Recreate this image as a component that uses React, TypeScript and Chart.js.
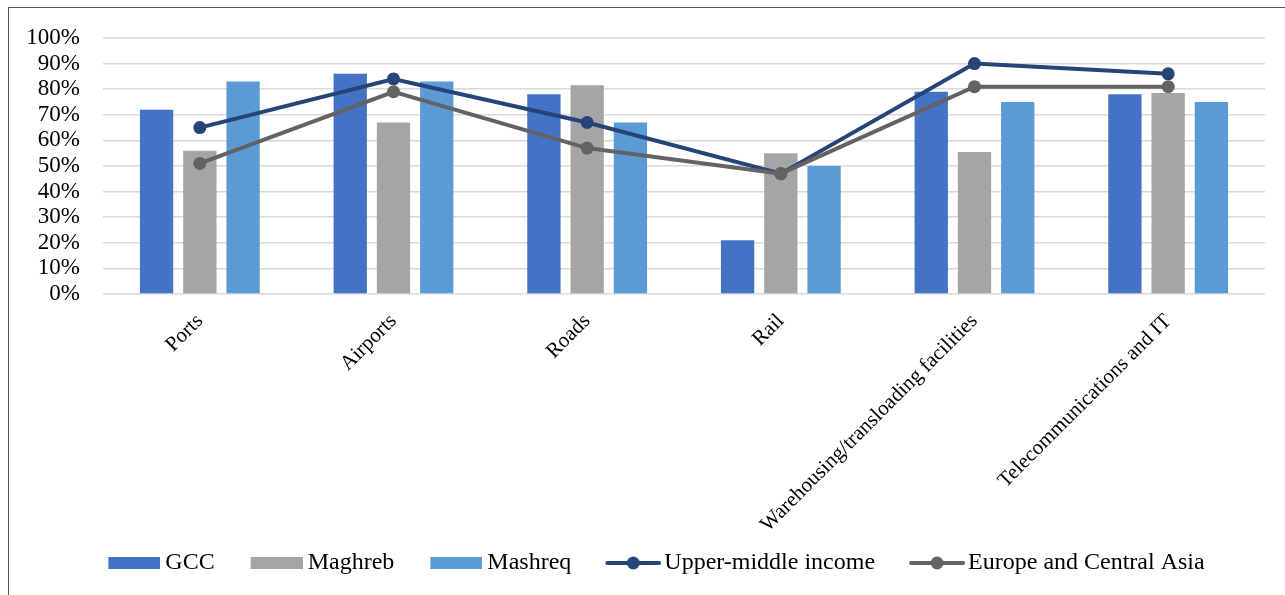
import React, { useEffect, useRef } from "react";
import { Chart, registerables } from "chart.js";

Chart.register(...registerables);

const categories = [
  "Ports",
  "Airports",
  "Roads",
  "Rail",
  "Warehousing/transloading facilities",
  "Telecommunications and IT",
];
const gcc = [72, 86, 78, 21, 79, 78];
const maghreb = [56, 67, 81.5, 55, 55.5, 78.5];
const mashreq = [83, 83, 67, 50, 75, 75];
const upperMiddle = [65, 84, 67, 47, 90, 86];
const europeCentralAsia = [51, 79, 57, 47, 81, 81];
const yTicks = [0, 10, 20, 30, 40, 50, 60, 70, 80, 90, 100];

const seriesNames = ["GCC", "Maghreb", "Mashreq", "Upper-middle income", "Europe and Central Asia"];
const colors = ["#4472C4", "#A5A5A5", "#5B9BD5", "#264478", "#636363"];

const FONT = "'Liberation Serif', 'Times New Roman', serif";

// legend marker images: transparent area on the left, visible swatch at the right end
function barSwatch(color: string) {
  const w = 85;
  const c = document.createElement("canvas");
  c.width = w;
  c.height = 12;
  const g = c.getContext("2d")!;
  g.fillStyle = color;
  g.fillRect(w - 52, 0, 52, 12);
  return c;
}

function lineSwatch(color: string) {
  const w = 89;
  const c = document.createElement("canvas");
  c.width = w;
  c.height = 14;
  const g = c.getContext("2d")!;
  const x0 = w - 56;
  g.strokeStyle = color;
  g.lineWidth = 4;
  g.lineCap = "round";
  g.beginPath();
  g.moveTo(x0 + 2, 7);
  g.lineTo(x0 + 54, 7);
  g.stroke();
  g.fillStyle = color;
  g.beginPath();
  g.arc(x0 + 28, 7, 6.5, 0, Math.PI * 2);
  g.fill();
  return c;
}

export default function App() {
  const ref = useRef<HTMLCanvasElement>(null);

  useEffect(() => {
    if (!ref.current) return;
    const markers = [
      barSwatch(colors[0]),
      barSwatch(colors[1]),
      barSwatch(colors[2]),
      lineSwatch(colors[3]),
      lineSwatch(colors[4]),
    ];
    const barDs = (label: string, data: number[], color: string) => ({
      type: "bar" as const,
      label,
      data,
      backgroundColor: color,
      borderWidth: 0,
      order: 2,
      categoryPercentage: 0.67,
      barPercentage: 0.77,
    });
    const lineDs = (label: string, data: number[], color: string, order: number) => ({
      type: "line" as const,
      label,
      data,
      borderColor: color,
      backgroundColor: color,
      pointBackgroundColor: color,
      pointBorderColor: color,
      pointBorderWidth: 0,
      pointRadius: 6.5,
      borderWidth: 4,
      tension: 0,
      fill: false,
      order,
    });

    const chart = new Chart(ref.current, {
      type: "bar",
      data: {
        labels: categories,
        datasets: [
          barDs(seriesNames[0], gcc, colors[0]),
          barDs(seriesNames[1], maghreb, colors[1]),
          barDs(seriesNames[2], mashreq, colors[2]),
          lineDs(seriesNames[3], upperMiddle, colors[3], 1),
          lineDs(seriesNames[4], europeCentralAsia, colors[4], 0),
        ] as any,
      },
      options: {
        responsive: false,
        animation: false,
        devicePixelRatio: 1,
        layout: { padding: { left: 22, right: 20, top: 38, bottom: 10 } },
        plugins: {
          tooltip: { enabled: false },
          legend: {
            position: "bottom",
            align: "center",
            labels: {
              usePointStyle: true,
              pointStyleWidth: 71,
              padding: 10,
              color: "#000",
              font: { family: FONT, size: 24 },
              generateLabels: (ch: any) =>
                ch.data.datasets.map((ds: any, i: number) => ({
                  text: ds.label,
                  datasetIndex: i,
                  hidden: !ch.isDatasetVisible(i),
                  pointStyle: markers[i],
                  fillStyle: colors[i],
                  strokeStyle: colors[i],
                  lineWidth: 0,
                  fontColor: "#000",
                })),
            },
          },
        },
        scales: {
          x: {
            grid: { display: false },
            border: { display: false },
            ticks: {
              autoSkip: false,
              maxRotation: 45,
              minRotation: 45,
              padding: 7,
              color: "#000",
              font: { family: FONT, size: 21 },
            },
            afterFit: (s: any) => {
              s.height = 247;
            },
          },
          y: {
            min: 0,
            max: 100,
            border: { display: false },
            grid: { color: "#D9D9D9", lineWidth: 1.5, drawTicks: false },
            afterBuildTicks: (s: any) => {
              s.ticks = yTicks.map((v) => ({ value: v }));
            },
            ticks: {
              autoSkip: false,
              padding: 23,
              color: "#000",
              font: { family: FONT, size: 23 },
              callback: (v: any) => `${v}%`,
            },
            afterFit: (s: any) => {
              s.width = 81;
            },
          },
        },
      },
    });
    return () => chart.destroy();
  }, []);

  return (
    <div
      style={{
        position: "fixed",
        left: 0,
        top: 0,
        width: 1285,
        height: 595,
        overflow: "hidden",
        background: "#fff",
      }}
    >
      <canvas
        ref={ref}
        width={1285}
        height={595}
        style={{ position: "absolute", left: 0, top: 0, width: 1285, height: 595 }}
      />
      <div
        style={{
          position: "absolute",
          left: 8,
          top: 7,
          width: 1300,
          height: 600,
          borderTop: "1px solid #595959",
          borderLeft: "1px solid #595959",
          pointerEvents: "none",
        }}
      />
    </div>
  );
}
